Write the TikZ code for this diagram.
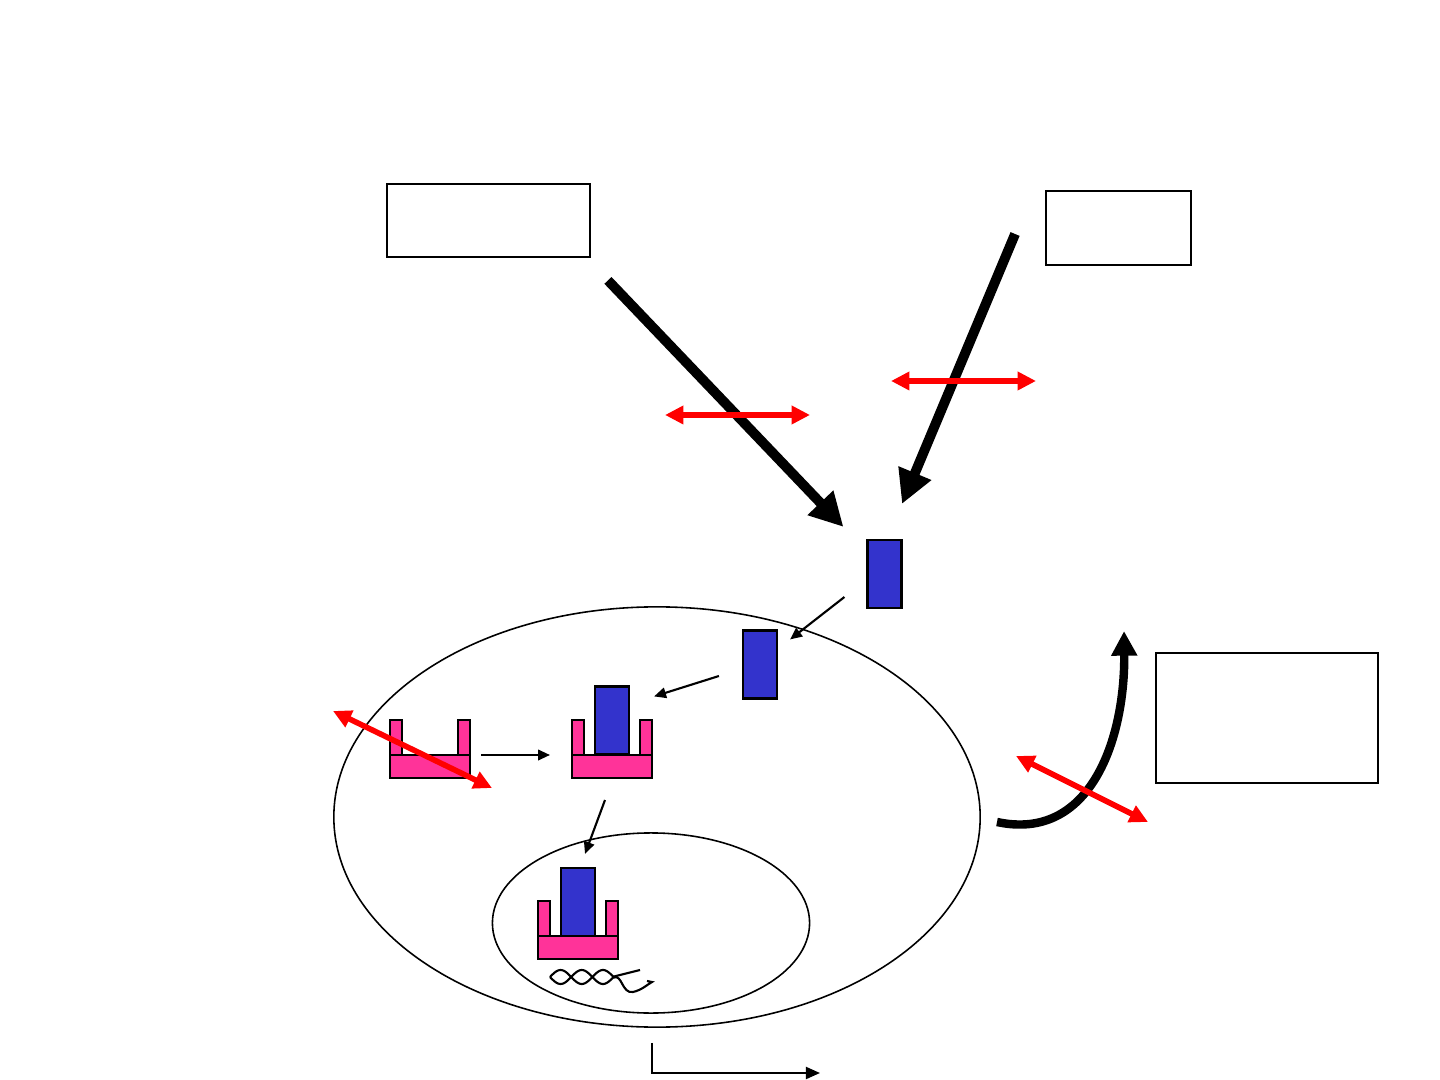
\documentclass[tikz,border=0pt]{standalone}
\usetikzlibrary{arrows.meta,shapes.geometric}
\definecolor{ligandblue}{RGB}{51,51,204}
\definecolor{receptorpink}{RGB}{255,51,153}
\tikzset{
	emptybox/.style={draw, line width=0.5pt, inner sep=0},
	ligand/.style={draw, line width=0.6pt, fill=ligandblue, minimum width=0.34cm, minimum height=0.68cm, inner sep=0},
	bigarrow/.style={line width=2.8pt, -{Triangle[length=9.5pt,width=9.5pt]}},
	thinarrow/.style={line width=0.6pt, -{Triangle[length=3.4pt,width=3pt]}},
	block/.style={red, line width=1.6pt, {Triangle[length=5.2pt,width=5pt]}-{Triangle[length=5.2pt,width=5pt]}},
	receptor/.pic={
		\draw[fill=receptorpink, line width=0.6pt] (-40,0) rectangle (40,-23);
		\draw[fill=receptorpink, line width=0.6pt] (-40,-23) rectangle (-28,-58);
		\draw[fill=receptorpink, line width=0.6pt] (28,-23) rectangle (40,-58);
		\coordinate (-left) at (-40,-23);
		\coordinate (-right) at (40,-23);
		\coordinate (-bottom) at (0,0);
	}
}
\begin{document}
\begin{tikzpicture}[x=0.01cm, y=-0.01cm]
				\useasboundingbox (0,0) rectangle (1440,1080);
				%boxes
				\node[emptybox, minimum width=2.03cm, minimum height=0.73cm] (source) at (488.5,220.5){};
				\node[emptybox, minimum width=1.45cm, minimum height=0.74cm] (drug) at (1118.5,228){};
				\node[emptybox, minimum width=2.22cm, minimum height=1.30cm] (effect) at (1267,718){};
				
				%cell and nucleus
				\node[draw, ellipse, line width=0.45pt, minimum width=6.46cm, minimum height=4.20cm, inner sep=0] (cell) at (657,817){};
				\node[draw, ellipse, line width=0.45pt, minimum width=3.17cm, minimum height=1.80cm, inner sep=0] (nucleus) at (651,923){};
				
				%hormone
				\node[ligand] (hormone) at (884.5,574){};
				\node[ligand] (cytohormone) at (760,664.5){};
				
				%receptors
				\pic (free) at (430,778) {receptor};
				\pic (complex) at (612,778) {receptor};
				\pic (nuccomplex) at (578,959) {receptor};
				\node[ligand] (bound) at (612,720.5){};
				\node[ligand] (nucbound) at (578,902){};
				
				%dna
				\draw[line width=0.6pt] plot[domain=550:614, samples=50, smooth] (\x, {977+7*sin((\x-550)*8.5)}) -- (640,970);
				\draw[line width=0.6pt] plot[domain=550:614, samples=50, smooth] (\x, {977-7*sin((\x-550)*8.5)}) .. controls (622,974) and (622,994) .. (633,992) .. controls (642,990) and (648,984) .. (652,982) -- (647,981);
				
				%signalling
				\draw[bigarrow] ([xshift=0.17cm,yshift=-0.225cm]source.south east) -- ([xshift=-0.23cm,yshift=0.12cm]hormone.north west);
				\draw[bigarrow] ([xshift=-0.30cm,yshift=-0.06cm]drug.west) -- ([xshift=0.175cm,yshift=0.35cm]hormone.north);
				\draw[thinarrow] ([xshift=-0.22cm,yshift=-0.23cm]hormone.west) -- ([xshift=0.12cm,yshift=-0.10cm]cytohormone.north east);
				\draw[thinarrow] ([xshift=-0.23cm,yshift=-0.115cm]cytohormone.west) -- ([xshift=0.24cm,yshift=-0.11cm]bound.north east);
				\draw[thinarrow] ([xshift=0.11cm]free-right) -- ([xshift=-0.22cm]complex-left);
				\draw[thinarrow] ([xshift=-0.07cm,yshift=-0.22cm]complex-bottom) -- ([xshift=0.07cm,yshift=0.13cm]nucbound.north);
				\draw[line width=2.4pt, -{Triangle[length=7pt,width=7pt]}] ([xshift=0.16cm,yshift=-0.05cm]cell.east) .. controls (1090,842) and (1125,740) .. ([xshift=-0.31cm,yshift=0.21cm]effect.north west);
				\coordinate (transcript) at (820,1073);
				\draw[line width=0.6pt, -{Triangle[length=4pt,width=3.4pt]}] ([xshift=-0.05cm,yshift=-0.15cm]cell.south) |- (transcript);
				
				%blocks
				\foreach \n/\xa/\ya/\xb/\yb in {left/665/415/810/415, right/891/381/1036/381, entry/333/711/492/788, exit/1016/756/1148/822}{
					\coordinate (\n-a) at (\xa,\ya);
					\coordinate (\n-b) at (\xb,\yb);
					\draw[block] (\n-a) -- (\n-b);
				}
\end{tikzpicture}
\end{document}
